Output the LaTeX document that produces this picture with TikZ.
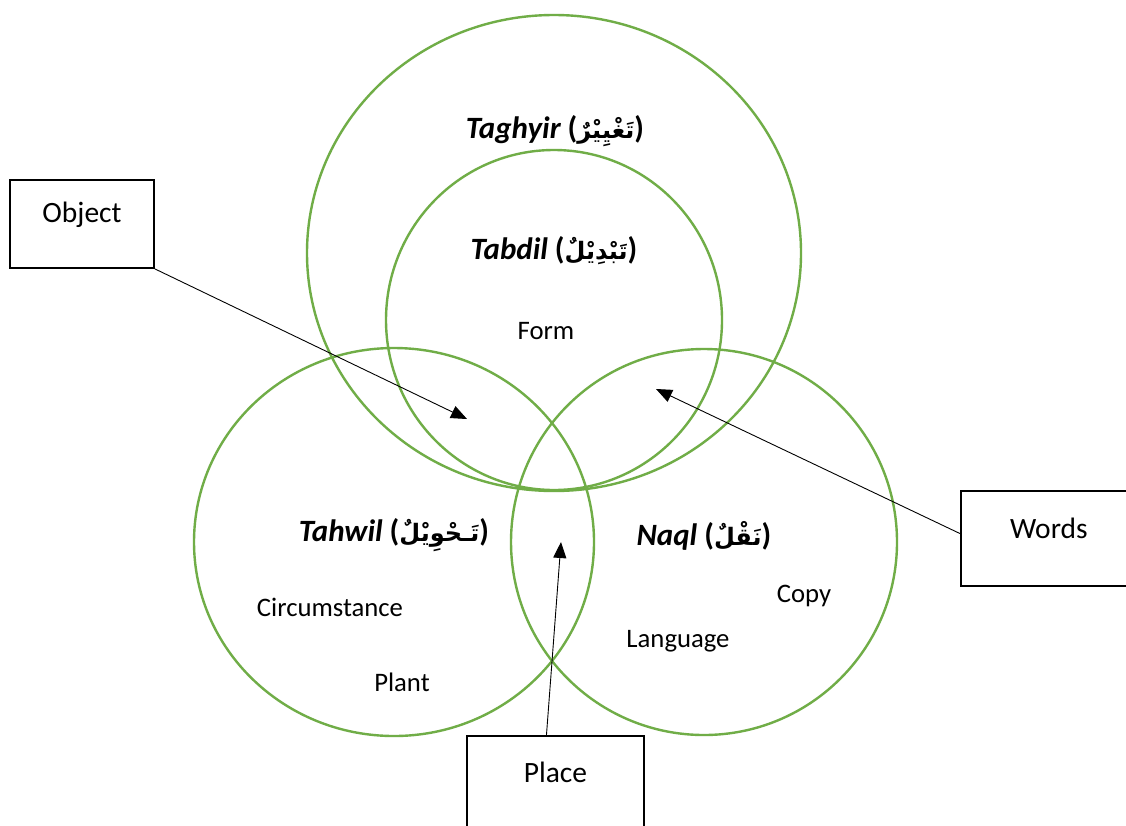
\documentclass[tikz,border=0pt]{standalone}
\usepackage{fontspec}
\setmainfont{Carlito}
\newfontfamily\arabicfont[Script=Arabic]{DejaVu Sans}
\TeXXeTstate=1
\newcommand{\arabictxt}[1]{{\upshape(}{\arabicfont\upshape\bfseries\fontsize{24}{28}\selectfont\beginR #1\endR}{\upshape)}}
\usetikzlibrary{arrows.meta,calc}
\definecolor{vgreen}{RGB}{112,173,71}
\begin{document}
\begin{tikzpicture}[x=1pt,y=-1pt,
  ring/.style={draw=vgreen,line width=2.4pt},
  boxnode/.style={draw=black,line width=1.8pt,rectangle,inner sep=0pt},
  lbl/.style={font=\fontsize{26.7}{30}\selectfont,inner sep=0pt},
  boxlbl/.style={font=\fontsize{29.5}{33}\selectfont,inner sep=0pt},
  title/.style={font=\fontsize{31}{35}\selectfont\bfseries\itshape,inner sep=0pt},
  pointer/.style={draw=black,line width=0.9pt,-{Triangle[length=16pt,width=13pt]}}]
\clip (0,0) rectangle (1126,825);
\fill[white] (0,0) rectangle (1126,825);
% circles
\coordinate (cTaghyir) at (554,253);
\coordinate (cTabdil) at (554,320);
\coordinate (cTahwil) at (394,542);
\coordinate (cNaql) at (704,542);
\draw[ring] (cTaghyir) ellipse [x radius=247, y radius=238];
\draw[ring] (cTabdil) ellipse [x radius=168, y radius=170];
\draw[ring] (cTahwil) ellipse [x radius=200, y radius=194];
\draw[ring] (cNaql) ellipse [x radius=193, y radius=193];
% titles
\node[title] (tTaghyir) at (555,131) {Taghyir \arabictxt{تَغْيِيْرٌ}};
\node[title] (tTabdil) at (554,251) {Tabdil \arabictxt{تَبْدِيْلٌ}};
\node[title] (tTahwil) at (394,535) {Tahwil \arabictxt{تَـحْوِيْلٌ}};
\node[title] (tNaql) at (704,536) {Naql \arabictxt{نَقْلٌ}};
% labels
\node[lbl] (form) at (546,331) {Form};
\node[lbl] (circ) at (330,607) {Circumstance};
\node[lbl] (plant) at (402,682) {Plant};
\node[lbl] (copy) at (804,596) {Copy};
\node[lbl] (lang) at (678,641) {Language};
% boxes
\node[boxnode,minimum width=144pt,minimum height=88pt,
  label={[boxlbl,yshift=9pt]center:Object}] (obj) at (82,224) {};
\node[boxnode,minimum width=200pt,minimum height=95pt,anchor=north west,
  label={[boxlbl,xshift=-12pt,yshift=10pt]center:Words}] (words) at (960,490) {};
\node[boxnode,minimum width=177pt,minimum height=120pt,anchor=north west,
  label={[boxlbl,yshift=24pt]center:Place}] (place) at (466,735) {};
% pointer tips
\coordinate (tipObj) at (467,419);
\coordinate (tipWords) at (656,389);
\coordinate (tipPlace) at (561,542);
\draw[pointer] (obj.south east) -- (tipObj);
\draw[pointer] ($(words.north west)!0.45!(words.south west)$) -- (tipWords);
\draw[pointer] ($(place.north west)!0.45!(place.north east)$) -- (tipPlace);
\end{tikzpicture}
\end{document}
